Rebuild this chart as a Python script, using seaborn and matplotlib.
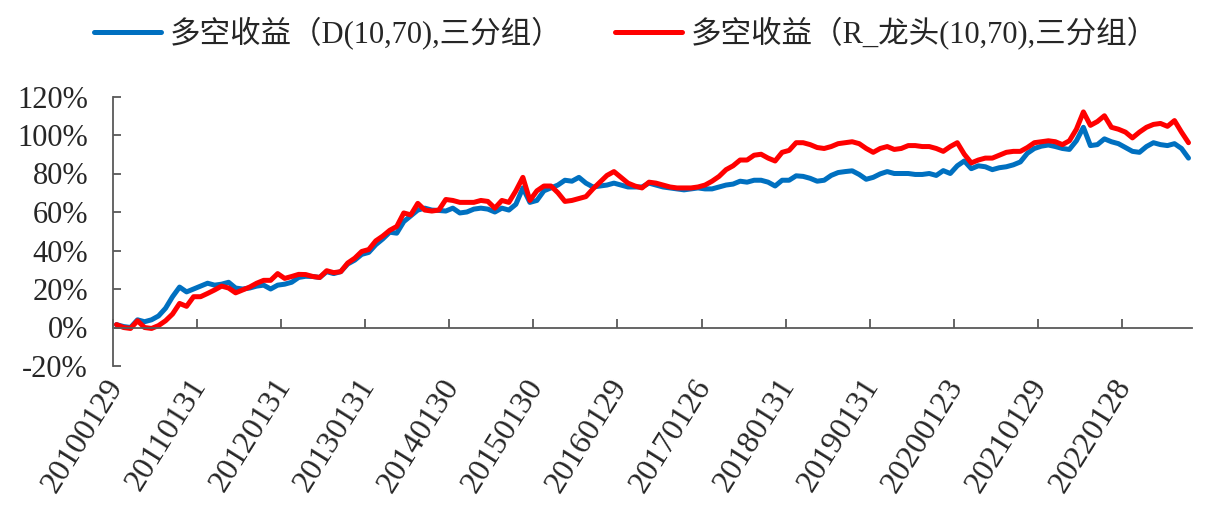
import matplotlib
matplotlib.use('Agg')
import numpy as np
import pandas as pd
import matplotlib.pyplot as plt
import seaborn as sns
from matplotlib.ticker import FuncFormatter

# monthly long-short returns (%), 2010-01 .. 2022-10
d_group = [
    1.5, 0.5, 0, 4, 3, 4, 6, 10, 16, 21, 18.5, 20,
    21.5, 23, 22, 22.5, 23.5, 20.5, 20, 20.5, 21.5, 22, 20, 22,
    22.5, 23.5, 26, 26.6, 26.5, 26, 29, 28, 29, 33, 35, 38,
    39, 43, 46, 49.5, 49, 55, 58, 61, 62, 61, 60.8, 60.5,
    62, 59.5, 60, 61.5, 62, 61.5, 60, 62, 61, 64, 72.5, 65,
    66, 71, 72.5, 74, 76.5, 76, 78, 75, 73, 73.5, 74, 75,
    74, 73, 73, 73, 75, 74, 73, 72.5, 72, 71.5, 72, 72.5,
    72, 72, 73, 74, 74.5, 76, 75.5, 76.5, 76.5, 75.5, 73.5, 76.5,
    76.5, 78.8, 78.5, 77.5, 76, 76.5, 79, 80.5, 81, 81.4, 79.5, 77,
    78, 79.8, 81, 80, 80, 80, 79.5, 79.5, 80, 79, 81.5, 80,
    84, 86.5, 82.5, 84, 83.5, 82, 83, 83.5, 84.5, 86, 90.5, 93,
    94.2, 94.8, 94, 93, 92.5, 97, 104, 94.5, 95, 98, 96.5, 95.5,
    93.5, 91.5, 91, 94, 96, 95, 94.5, 95.5, 93, 88,
]
r_leader = [
    1.5, 0, -0.5, 3.5, 0, -0.5, 1, 3.5, 7, 12.5, 11, 16,
    16, 17.7, 19.5, 21.5, 20.5, 18, 19.5, 21, 23, 24.5, 24.5, 28,
    25.5, 26.5, 27.6, 27.5, 26.5, 26, 29.5, 28.5, 29, 33.5, 36, 39.5,
    40.5, 45, 47.5, 50.5, 52.5, 59.5, 58.5, 64.5, 61, 60.5, 61, 66.5,
    66, 65, 65, 65, 66, 65.5, 62, 66, 65, 71, 78, 66,
    71, 73.5, 73.5, 70, 65.5, 66, 67, 68, 72, 75.5, 79, 81,
    78, 75, 73.5, 72.5, 75.5, 75, 74, 73, 72.5, 72.5, 72.5, 73,
    74, 76, 78.5, 82, 84, 87, 87, 89.5, 90, 88, 86.5, 91,
    92, 96, 96, 95, 93.5, 93, 94, 95.5, 96, 96.5, 95.5, 93,
    91, 93, 94, 92.5, 93, 94.5, 94.5, 94, 94, 93, 91.5, 94,
    96, 90, 85.5, 87, 88, 88, 89.5, 91, 91.5, 91.5, 93.5, 96,
    96.5, 97, 96.5, 95, 97, 103, 112, 105, 107, 110, 104, 103,
    101.5, 98.5, 101.5, 104, 105.5, 106, 104.5, 107.5, 101.5, 96,
]
tick_labels = ['20100129', '20110131', '20120131', '20130131', '20140130',
               '20150130', '20160129', '20170126', '20180131', '20190131',
               '20200123', '20210129', '20220128']
series_names = ['多空收益（D(10,70),三分组）', '多空收益（R_龙头(10,70),三分组）']

sns.set_theme(style='white')
plt.rcParams['font.family'] = ['Liberation Serif', 'Noto Sans CJK SC']


def main():
    n = len(d_group)
    df = pd.DataFrame({'idx': np.arange(n), 'D': d_group, 'R': r_leader})

    fig = plt.figure(figsize=(12.06, 5.13), dpi=100)
    ax = fig.add_axes([113 / 1206, 1 - 366 / 513, 1079 / 1206, 269.5 / 513])

    sns.lineplot(data=df, x='idx', y='D', color='#0070C0', linewidth=3.6, ax=ax)
    sns.lineplot(data=df, x='idx', y='R', color='#FF0000', linewidth=3.6, ax=ax)

    ax.set_xlim(-0.5, n - 0.5)
    ax.set_ylim(-20, 120)
    ax.set_yticks(range(-20, 121, 20))
    ax.yaxis.set_major_formatter(FuncFormatter(lambda v, _: f'{v:.0f}%'))
    ax.set_xlabel('')
    ax.set_ylabel('')

    for side in ['top', 'right']:
        ax.spines[side].set_visible(False)
    ax.spines['left'].set_color('#595959')
    ax.spines['left'].set_linewidth(1.3)
    ax.spines['bottom'].set_position(('data', 0))
    ax.spines['bottom'].set_color('#595959')
    ax.spines['bottom'].set_linewidth(1.3)

    ax.set_xticks([12 * k - 0.5 for k in range(len(tick_labels))])
    ax.tick_params(axis='x', direction='in', length=6.5, width=1.3,
                   color='#595959', labelbottom=False, bottom=True)
    ax.tick_params(axis='y', direction='in', length=6, width=1.3,
                   color='#595959', labelsize=22, pad=18, left=True)

    sec = ax.secondary_xaxis('bottom')
    sec.set_xticks([12 * k for k in range(len(tick_labels))], labels=tick_labels)
    sec.tick_params(length=0, pad=11, labelsize=23)
    sec.spines['bottom'].set_visible(False)
    for lbl in sec.get_xticklabels():
        lbl.set_rotation(58)
        lbl.set_ha('right')
        lbl.set_va('center')
        lbl.set_rotation_mode('anchor')

    handles = ax.get_lines()[:2]
    fig.legend(handles, series_names, loc='center', bbox_to_anchor=(0.519, 1 - 33 / 513),
               ncol=2, frameon=False, fontsize=22, handlelength=2.2,
               handletextpad=0.3, columnspacing=1.7)

    fig.savefig('out.png', dpi=100)


if __name__ == '__main__':
    main()
